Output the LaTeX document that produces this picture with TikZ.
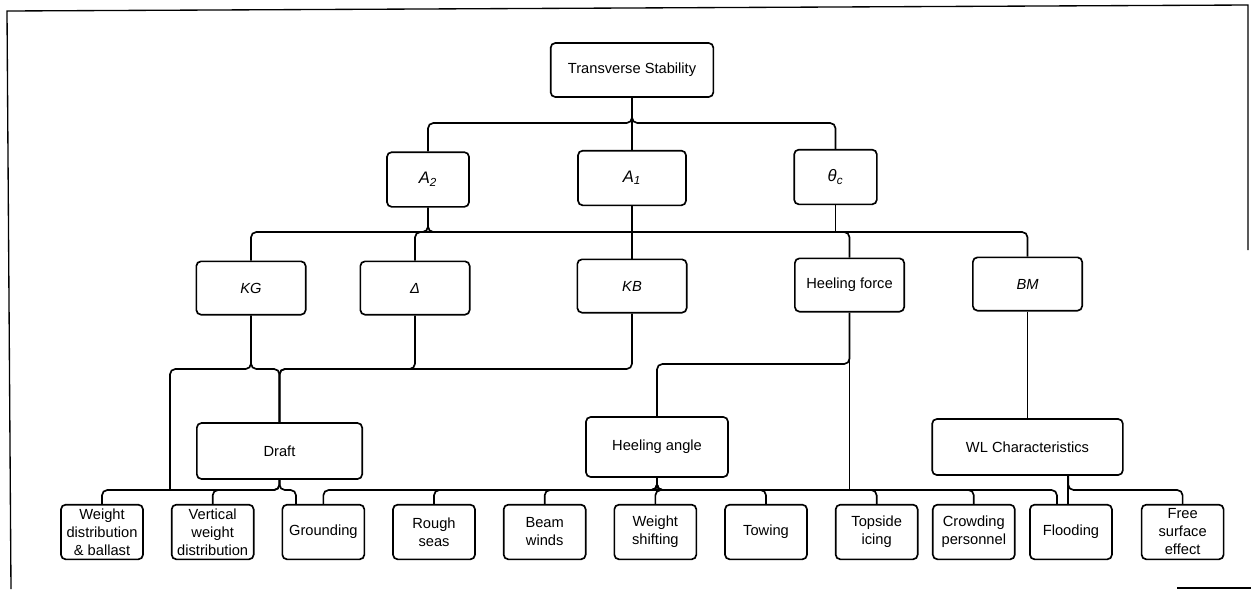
\documentclass[tikz,border=0pt]{standalone}
\usepackage{fontspec}
\setmainfont{Liberation Sans}
\usetikzlibrary{positioning}

\begin{document}
\begin{tikzpicture}[
  x=0.75pt, y=-0.75pt,
  blk/.style={draw, rounded corners=3.5pt, line width=1.25pt, align=center, inner sep=1pt, font=\fontsize{11}{13.5}\selectfont},
  rootbox/.style={blk, minimum width=122pt, minimum height=40.5pt},
  parbox/.style={blk, minimum height=41pt, font=\fontsize{12.5}{14}\selectfont\itshape},
  facbox/.style={blk, minimum width=82pt, minimum height=40pt},
  midbox/.style={blk, minimum height=42pt},
  leaf/.style={blk, minimum width=61.5pt, minimum height=41pt},
  link/.style={line width=1.25pt, rounded corners=4pt},
  sym/.style={font=\fontsize{11}{13}\selectfont\itshape},
  node distance=20.25pt
]
\useasboundingbox (0,0) rectangle (1251,590);

% frame of the scan
\draw[line width=1pt] (11,589) -- (7,11) -- (1248,5) -- (1248,250);
\draw[line width=1pt] (1177,588) -- (1251,588);

% bus levels
\coordinate (b1) at (0,123);
\coordinate (b2) at (0,232);
\coordinate (b3) at (0,369);
\coordinate (b3h) at (0,364);
\coordinate (b4) at (0,490);

\node[rootbox] (ts) at (632,70) {Transverse Stability};

\node[parbox, minimum width=61.5pt] (a2) at (428,179.5) {A\textsubscript{2}};
\node[parbox, minimum width=81pt] (a1) at (632,178) {A\textsubscript{1}};
\node[parbox, minimum width=62pt] (thc) at (835.5,177) {θ\textsubscript{c}};

\node[facbox, sym] (kg) at (251,288) {KG};
\node[facbox, sym] (dl) at (415,288) {Δ};
\node[facbox, sym] (kb) at (632,286) {KB};
\node[facbox] (hf) at (849.5,285) {Heeling force};
\node[facbox, sym] (bm) at (1027.5,284) {BM};

\node[midbox, minimum width=124pt] (dr) at (279.5,451) {Draft};
\node[midbox, minimum width=106.5pt, minimum height=45pt] (ha) at (657,447) {Heeling angle};
\node[midbox, minimum width=143pt] (wl) at (1027.5,447) {WL Characteristics};

\node[leaf] (wdb) at (102,532) {Weight\\distribution\\\& ballast};
\node[leaf, right=of wdb] (vwd) {Vertical\\weight\\distribution};
\node[leaf, right=of vwd] (gr) {Grounding};
\node[leaf, right=of gr] (rs) {Rough\\seas};
\node[leaf, right=of rs] (bw) {Beam\\winds};
\node[leaf, right=of bw] (ws) {Weight\\shifting};
\node[leaf, right=of ws] (tw) {Towing};
\node[leaf, right=of tw] (ti) {Topside\\icing};
\node[leaf, right=10.1pt of ti] (cp) {Crowding\\personnel};
\node[leaf, right=10.1pt of cp] (fl) {Flooding};
\node[leaf, right=21pt of fl] (fse) {Free\\surface\\effect};

% top
\draw[link] (ts.south) -- (ts.south |- b1) -| (a2.north);
\draw[link] (ts.south) -- (ts.south |- b1) -| (thc.north);
\draw[link] (ts.south) -- (a1.north);

% second row to factors
\draw[link] (a2.south) -- (a2.south |- b2) -| (kg.north);
\draw[link] (a2.south) -- (a2.south |- b2) -| (bm.north);
\draw[link] (dl.north) |- (a1.south |- b2);
\draw[link] (a1.south) -- (kb.north);
\draw[link] (thc.south) -- (thc.south |- b2);
\draw[link] (hf.north) |- (thc.south |- b2);

% factors to draft, heeling angle, WL
\coordinate (kgdn) at (170,490);
\draw[link] (kg.south) -- (kg.south |- b3) -| (kgdn);
\draw[link] (kg.south) -- (kg.south |- b3) -| (dr.north);
\draw[link] (dl.south) -- (dl.south |- b3) -| (dr.north);
\draw[link] (kb.south) -- (kb.south |- b3) -| (dr.north);
\draw[link] (hf.south) -- (hf.south |- b3h) -| (ha.north);
\draw[link] (hf.south) -- (hf.south |- b4);
\draw[link] (bm.south) -- (wl.north);

% draft to leaves
\draw[link] (dr.south) -- (dr.south |- b4) -| (wdb.north);
\draw[link] (dr.south) -- (dr.south |- b4) -| (vwd.north);
\draw[link] (dr.south) -- (dr.south |- b4) -| ([xshift=-20.5pt]gr.north);

% heeling angle to leaves
\foreach \leafnode in {gr,rs,bw,ws,tw,ti,cp}
  \draw[link] (ha.south) -- (ha.south |- b4) -| (\leafnode.north);
\draw[link] (ha.south) -- (ha.south |- b4) -| ([xshift=-10.5pt]fl.north);

% WL to leaves
\draw[link] ([xshift=30.5pt]wl.south) -- ([xshift=30.5pt]wl.south |- fl.north);
\draw[link] ([xshift=30.5pt]wl.south) -- ([xshift=30.5pt]wl.south |- b4) -| (fse.north);
\end{tikzpicture}
\end{document}
